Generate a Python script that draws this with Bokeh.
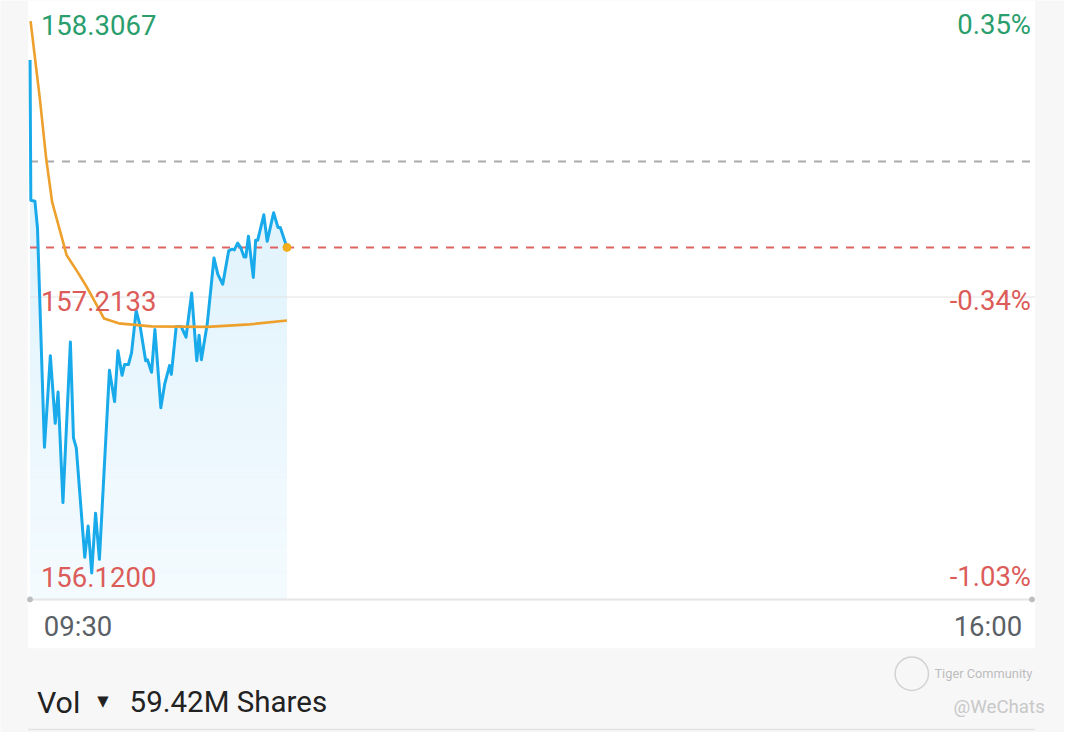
from bokeh.plotting import figure
from bokeh.models import Range1d, Label
from bokeh.embed import file_html
from bokeh.resources import INLINE

# ---------------- data ----------------
# minutes after 09:30 and last price
blue_min = [0, 0.3, 1.9, 2.9, 5.6, 7.9, 9.8, 10.9, 12.8, 15.7, 16.9, 18.0, 21.3, 22.6,
            24.0, 25.5, 27.0, 30.9, 32.9, 34.2, 35.8, 36.8, 38.3, 39.5, 41.3, 42.8,
            45.0, 45.7, 47.3, 48.6, 50.9, 52.4, 54.3, 55.0, 56.9, 58.8, 60.7, 62.9,
            64.9, 65.8, 66.7, 69.0, 71.6, 73.1, 75.0, 77.3, 78.6, 79.5, 80.8, 82.1,
            83.3, 84.0, 85.0, 86.9, 87.8, 88.6, 91.0, 92.3, 94.8, 96.5, 97.4, 100.0]
blue_price = [158.152, 157.597, 157.593, 157.485, 156.618, 156.981, 156.713, 156.837,
              156.399, 157.035, 156.655, 156.616, 156.182, 156.306, 156.120, 156.357,
              156.174, 156.923, 156.799, 157.000, 156.903, 156.946, 156.946, 156.992,
              157.159, 157.101, 156.961, 156.965, 156.915, 157.085, 156.775, 156.868,
              156.942, 156.907, 157.097, 157.097, 157.054, 157.229, 156.961, 157.062,
              156.965, 157.109, 157.368, 157.303, 157.264, 157.396, 157.403, 157.400,
              157.427, 157.407, 157.372, 157.372, 157.454, 157.291, 157.438, 157.438,
              157.539, 157.434, 157.547, 157.489, 157.489, 157.410]
# average price line
avg_min = [0.2, 3.8, 6.3, 8.6, 11.5, 14.2, 18.4, 21.9, 25.7, 28.8, 34.5, 47.2, 69.0, 85.5, 100.0]
avg_price = [158.3067, 158.000, 157.760, 157.589, 157.481, 157.380, 157.314, 157.256,
             157.186, 157.128, 157.109, 157.097, 157.095, 157.105, 157.120]

hi_price, lo_price = 158.3067, 156.12
prev_close = 157.75
last_price = 157.41
price_labels = ["158.3067", "157.2133", "156.1200"]
pct_labels = ["0.35%", "-0.34%", "-1.03%"]
time_labels = ["09:30", "16:00"]
session_minutes = 390
vol_text = ["Vol", "\u25BC", "59.42M Shares"]
watermark = ["Tiger Community", "@WeChats"]

# ---------------- layout (reference pixels, scaled to the figure) ----------------
W, H = 1064, 732
REF_W, REF_H = 1080, 748
S = (W / REF_W + H / REF_H) / 2
PX0, PX1 = 30, 1047      # session start / end
PYT, PYB = 21, 585       # high / low
ppm = (PX1 - PX0) / session_minutes
upp = (hi_price - lo_price) / (PYB - PYT)


def X(px):
    return (px - PX0) / ppm


def Y(py):
    return hi_price - (py - PYT) * upp


def fs(px):
    return "%.1fpx" % (px * S)


BG = "#f7f7f8"
GREEN = "#2a9e6c"
RED = "#dc5c59"
FONT = "Roboto"

p = figure(width=W, height=H, x_range=Range1d(X(0), X(REF_W)),
           y_range=Range1d(Y(REF_H), Y(0)), output_backend="svg",
           toolbar_location=None, min_border=0, x_axis_type=None, y_axis_type=None,
           title=None)
p.outline_line_color = None
p.background_fill_color = BG
p.border_fill_color = BG

# white card
p.quad(left=X(28), right=X(1050), top=Y(0), bottom=Y(662), fill_color="white", line_color=None)
# separator under volume line
p.segment(x0=X(28), x1=X(1050), y0=Y(745), y1=Y(745), line_color="#e2e2e2", line_width=1.5)

# area under price line
fill_bottom = Y(612)
p.varea(x=blue_min, y1=fill_bottom, y2=blue_price, fill_color="#d9f0fc", fill_alpha=1.0)
# vertical fade towards bottom
N = 40
top_px, bot_px = 60, 612
for i in range(N):
    a_px = top_px + (bot_px - top_px) * i / N
    b_px = top_px + (bot_px - top_px) * (i + 1) / N
    t = (i + 0.5) / N
    p.quad(left=X(27), right=blue_min[-1], top=Y(a_px), bottom=Y(b_px),
           fill_color="white", fill_alpha=0.72 * t, line_color=None)

mid_price = (hi_price + lo_price) / 2
# mid grid line
p.segment(x0=X(PX0), x1=X(1050), y0=mid_price, y1=mid_price, line_color="#e3e3e3", line_width=1)
# bottom axis line
p.segment(x0=X(PX0), x1=X(PX1), y0=Y(612), y1=Y(612), line_color="#e6e6e6", line_width=2)
p.scatter([0, session_minutes], [Y(612), Y(612)], size=5, color="#bdbdbd")

# previous close and last price lines
p.segment(x0=X(PX0), x1=X(PX1), y0=prev_close, y1=prev_close, line_color="#aaaaaa",
          line_width=2, line_dash="8 8")
p.segment(x0=X(PX0), x1=X(PX1), y0=last_price, y1=last_price, line_color="#e06262",
          line_width=2, line_dash="8 8")

# price and average lines
p.line(blue_min, blue_price, line_color="#18aaea", line_width=3, line_join="round")
p.line(avg_min, avg_price, line_color="#eea02c", line_width=2.6, line_join="round")
p.scatter([blue_min[-1]], [blue_price[-1]], size=8, color="#f2ae1c")

# price labels (left) and percent labels (right)
vals = [hi_price, mid_price, lo_price]
cols = [GREEN, RED, RED]
for v, lab, pct, c in zip(vals, price_labels, pct_labels, cols):
    yv = v - 4 * upp
    p.add_layout(Label(x=X(41), y=yv, text=lab, text_font=FONT, text_font_size=fs(28),
                       text_color=c, text_align="left", text_baseline="middle"))
    p.add_layout(Label(x=X(1046), y=yv, text=pct, text_font=FONT, text_font_size=fs(28),
                       text_color=c, text_align="right", text_baseline="middle"))

# time labels
p.add_layout(Label(x=X(44), y=Y(640), text=time_labels[0], text_font=FONT,
                   text_font_size=fs(28), text_color="#5b5f66", text_align="left",
                   text_baseline="middle"))
p.add_layout(Label(x=X(1037), y=Y(640), text=time_labels[1], text_font=FONT,
                   text_font_size=fs(28), text_color="#5b5f66", text_align="right",
                   text_baseline="middle"))

# volume line
p.add_layout(Label(x=X(37), y=Y(717), text=vol_text[0], text_font=FONT,
                   text_font_size=fs(31), text_color="#222222", text_align="left",
                   text_baseline="middle"))
p.add_layout(Label(x=X(104), y=Y(715), text=vol_text[1], text_font="DejaVu Sans",
                   text_font_size=fs(15), text_color="#222222", text_align="center",
                   text_baseline="middle"))
p.add_layout(Label(x=X(131), y=Y(717), text=vol_text[2], text_font=FONT,
                   text_font_size=fs(30), text_color="#222222", text_align="left",
                   text_baseline="middle"))

# watermark
p.scatter([X(925)], [Y(688)], size=34 * S, fill_color=None, line_color="#d2d2d2", line_width=1.5)
p.add_layout(Label(x=X(948), y=Y(688), text=watermark[0], text_font=FONT,
                   text_font_size=fs(13), text_color="#bdbdbd", text_align="left",
                   text_baseline="middle"))
p.add_layout(Label(x=X(1060), y=Y(722), text=watermark[1], text_font=FONT,
                   text_font_size=fs(19), text_color="#c8c8c8", text_align="right",
                   text_baseline="middle"))

open("out.html", "w").write(file_html(p, INLINE))
